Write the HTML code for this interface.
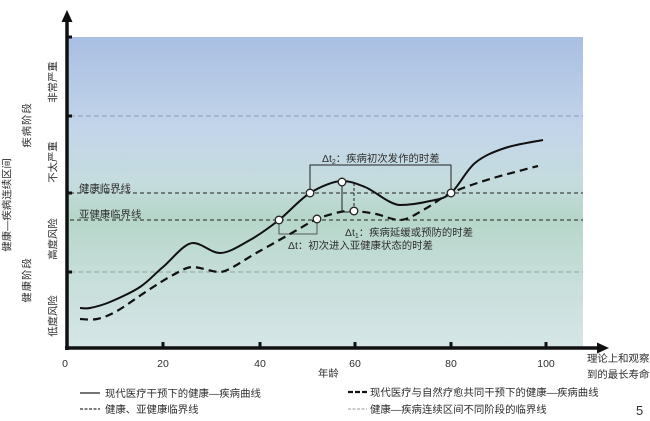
<!DOCTYPE html>
<html>
<head>
<meta charset="utf-8">
<style>
  html,body{margin:0;padding:0;background:#fff;}
  svg{display:block;}
  text{font-family:"Liberation Sans","Noto Sans CJK SC",sans-serif;fill:#2e2e2e;}
</style>
</head>
<body>
<svg width="650" height="421" viewBox="0 0 650 421" xmlns="http://www.w3.org/2000/svg">
  <defs>
    <linearGradient id="bg" x1="0" y1="0" x2="0" y2="1">
      <stop offset="0" stop-color="#a9bfe2"/>
      <stop offset="0.3" stop-color="#c3d5ea"/>
      <stop offset="0.47" stop-color="#c5dcde"/>
      <stop offset="0.58" stop-color="#b6d6c9"/>
      <stop offset="0.72" stop-color="#c2dcd5"/>
      <stop offset="1" stop-color="#d6e6e8"/>
    </linearGradient>
  </defs>

  <!-- background -->
  <rect x="68" y="37" width="515" height="310" fill="url(#bg)"/>

  <!-- threshold lines -->
  <line x1="70" y1="116" x2="583" y2="116" stroke="#8c9bb0" stroke-width="1" stroke-dasharray="5 3"/>
  <line x1="70" y1="272" x2="583" y2="272" stroke="#8fa3a3" stroke-width="1" stroke-dasharray="5 3"/>
  <line x1="70" y1="193" x2="583" y2="193" stroke="#222" stroke-width="1" stroke-dasharray="4 3"/>
  <line x1="70" y1="220" x2="583" y2="220" stroke="#222" stroke-width="1" stroke-dasharray="4 3"/>

  <!-- brackets -->
  <polyline points="310,193 310,165 451,165 451,193" fill="none" stroke="#222" stroke-width="1"/>
  <polyline points="342,182 342,212 354,212" fill="none" stroke="#222" stroke-width="1"/>
  <line x1="354" y1="183" x2="354" y2="211" stroke="#222" stroke-width="1" stroke-dasharray="3 2"/>
  <polyline points="279,220 279,234 317,234 317,219" fill="none" stroke="#555" stroke-width="1"/>

  <!-- solid curve -->
  <path fill="none" stroke="#111" stroke-width="2" d="M80,308
    C81.7,308 85,309 90,308
    C95,307 101.7,305.5 110,302
    C118.3,298.5 131.2,292.8 140,287
    C148.8,281.2 154.2,274.3 163,267
    C171.8,259.7 184,243 193,243
    C202,243 211,253 220,253
    C229,253 240.2,245.5 250,240
    C259.8,234.5 269,227.8 279,220
    C289,212.2 299.5,199.5 310,193
    C320.5,186.5 334,181 342,181
    C350,181 355.3,183.2 365,187
    C374.7,190.8 390,205 400,205
    C410,205 421.5,203 430,201
    C438.5,199 443.5,199.3 451,193
    C458.5,186.7 466,170.5 475,163
    C484,155.5 493.7,151.8 505,148
    C516.3,144.2 536.7,141.3 543,140"/>

  <!-- dashed curve -->
  <path fill="none" stroke="#111" stroke-width="2.2" stroke-dasharray="8 5" d="M80,319
    C82.8,319 90.8,320.3 97,319
    C103.2,317.7 108.7,315.7 117,311
    C125.3,306.3 137.7,297 147,291
    C156.3,285 165.3,279 173,275
    C180.7,271 186,267 193,267
    C200,267 212,272 220,272
    C228,272 245.2,259 258,252
    C270.8,245 287.2,235.5 297,230
    C306.8,224.5 309.8,222 317,219
    C324.2,216 333.8,213.3 340,212
    C346.2,210.7 348,210.7 354,211
    C360,211.3 368.3,212.5 376,214
    C383.7,215.5 392,220 400,220
    C408,220 416.5,213.5 425,209
    C433.5,204.5 440.2,198 451,193
    C461.8,188 475.5,183.5 490,179
    C504.5,174.5 530,168.2 538,166"/>

  <!-- circles -->
  <g fill="#fff" stroke="#222" stroke-width="1.3">
    <circle cx="279" cy="220" r="3.8"/>
    <circle cx="317" cy="219" r="3.8"/>
    <circle cx="310" cy="193" r="3.8"/>
    <circle cx="342" cy="182" r="3.8"/>
    <circle cx="354" cy="211" r="3.8"/>
    <circle cx="451" cy="193" r="3.8"/>
  </g>

  <!-- annotations -->
  <text x="322" y="162" font-size="10.4">Δt<tspan font-size="7" dy="2">2</tspan><tspan dy="-2">：疾病初次发作的时差</tspan></text>
  <text x="345" y="236" font-size="10.4">Δt<tspan font-size="7" dy="2">1</tspan><tspan dy="-2">：疾病延缓或预防的时差</tspan></text>
  <text x="288" y="249" font-size="10.4">Δt：初次进入亚健康状态的时差</text>
  <text x="79" y="192" font-size="10.4">健康临界线</text>
  <text x="79" y="218" font-size="10.4">亚健康临界线</text>

  <!-- axes -->
  <line x1="67" y1="350" x2="67" y2="18" stroke="#111" stroke-width="3.5"/>
  <polygon points="67,10 61.5,22 72.5,22" fill="#111"/>
  <line x1="65" y1="348" x2="600" y2="348" stroke="#111" stroke-width="3.5"/>
  <polygon points="609,348 597,342.5 597,353.5" fill="#111"/>

  <!-- y ticks -->
  <g fill="#111">
    <rect x="67" y="35.5" width="5" height="3"/>
    <rect x="67" y="114.5" width="5" height="3"/>
    <rect x="67" y="191.5" width="5" height="3"/>
    <rect x="67" y="270.5" width="5" height="3"/>
    <!-- x ticks -->
    <rect x="161.5" y="342" width="3" height="6"/>
    <rect x="258.5" y="342" width="3" height="6"/>
    <rect x="353.5" y="342" width="3" height="6"/>
    <rect x="449.5" y="342" width="3" height="6"/>
    <rect x="544.5" y="342" width="3" height="6"/>
  </g>

  <!-- x tick labels -->
  <g font-size="10.5" text-anchor="middle">
    <text x="65" y="367">0</text>
    <text x="163" y="367">20</text>
    <text x="260" y="367">40</text>
    <text x="355" y="367">60</text>
    <text x="451" y="367">80</text>
    <text x="546" y="367">100</text>
  </g>
  <text x="318" y="377" font-size="10.4">年龄</text>
  <text x="587" y="362" font-size="10.4">理论上和观察</text>
  <text x="587" y="378" font-size="10.4">到的最长寿命</text>

  <!-- y side labels -->
  <g font-size="10.4" text-anchor="middle" dominant-baseline="central">
    <text transform="translate(54,82) rotate(-90)">非常严重</text>
    <text transform="translate(54,162) rotate(-90)">不太严重</text>
    <text transform="translate(54,239) rotate(-90)">高度风险</text>
    <text transform="translate(54,316) rotate(-90)">低度风险</text>
    <text transform="translate(28,125) rotate(-90)" letter-spacing="1">疾病阶段</text>
    <text transform="translate(28,280) rotate(-90)" letter-spacing="1">健康阶段</text>
    <text transform="translate(8,205) rotate(-90)">健康—疾病连续区间</text>
  </g>

  <!-- legend -->
  <line x1="80" y1="393" x2="100" y2="393" stroke="#222" stroke-width="1.3"/>
  <text x="105" y="397" font-size="10.4">现代医疗干预下的健康—疾病曲线</text>
  <line x1="80" y1="409" x2="100" y2="409" stroke="#333" stroke-width="1.2" stroke-dasharray="3 1.5"/>
  <text x="105" y="413" font-size="10.4">健康、亚健康临界线</text>

  <line x1="348" y1="392" x2="367" y2="392" stroke="#111" stroke-width="2.2" stroke-dasharray="5 2"/>
  <text x="370" y="396" font-size="10.4">现代医疗与自然疗愈共同干预下的健康—疾病曲线</text>
  <line x1="348" y1="409" x2="367" y2="409" stroke="#999" stroke-width="1" stroke-dasharray="3 1.5"/>
  <text x="370" y="413" font-size="10.4">健康—疾病连续区间不同阶段的临界线</text>

  <text x="636" y="415" font-size="13">5</text>
</svg>
</body>
</html>
